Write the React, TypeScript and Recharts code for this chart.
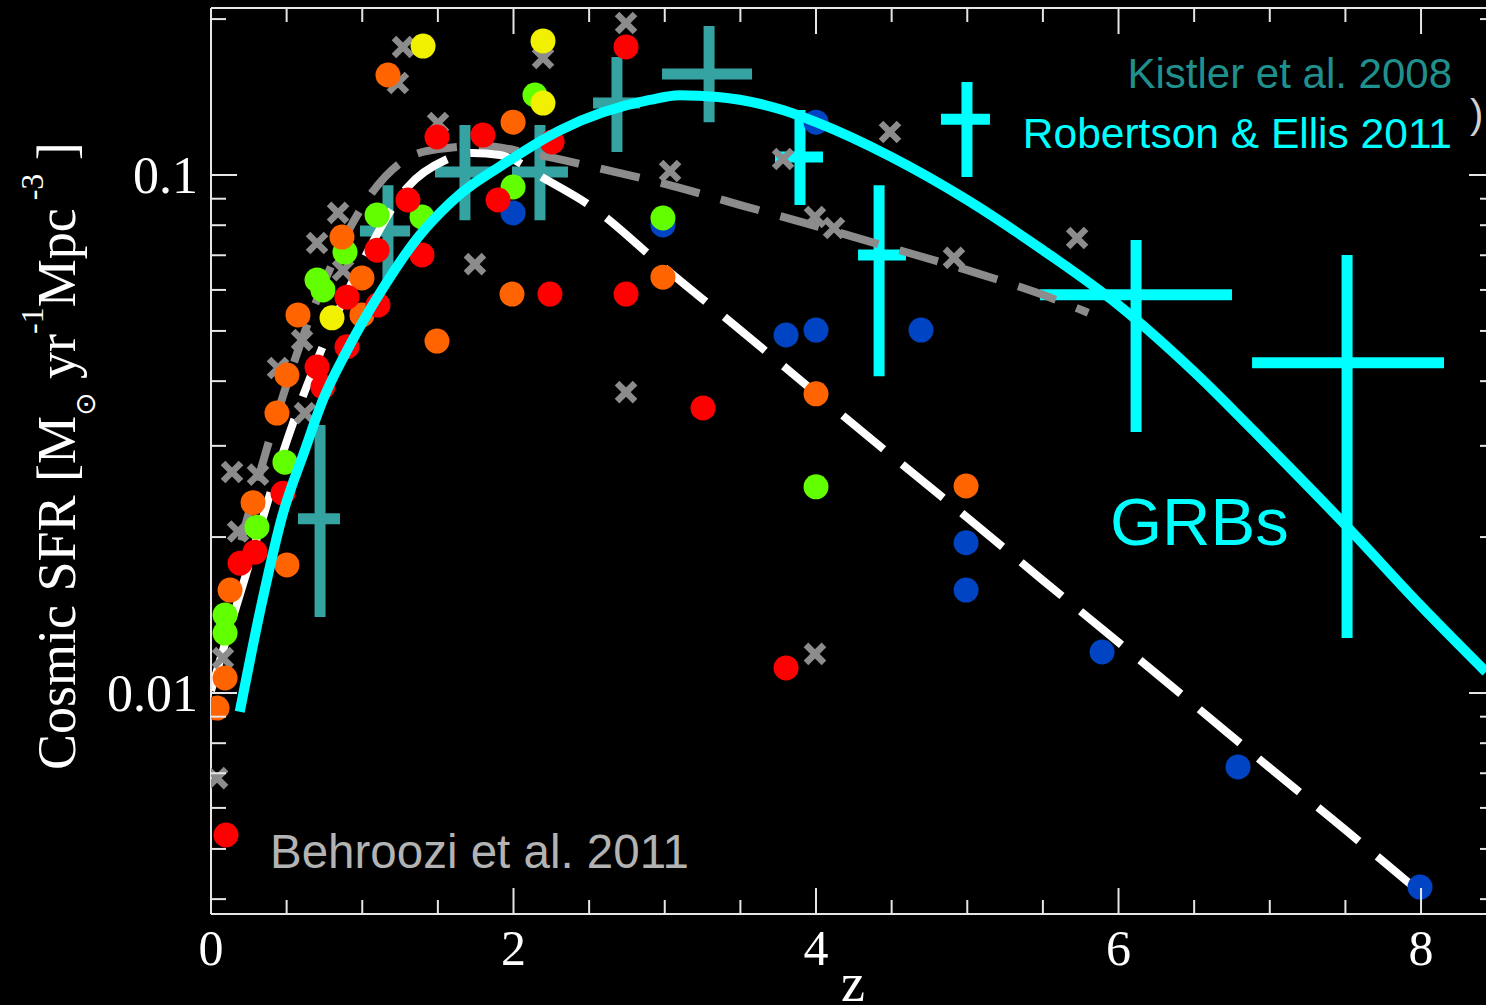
import { ComposedChart, XAxis, YAxis, Line, Scatter, ErrorBar } from 'recharts'

const W = 1496
const H = 1005
const AXIS = '#e6e6e6'
const SERIF = '"Liberation Serif", "Times New Roman", serif'
const SANS = '"Liberation Sans", Arial, sans-serif'

// axes
const zDomain: [number, number] = [0, 8.489]
const sfrDomain: [number, number] = [0.003744, 0.2101]
const zTicks = [0, 0.5, 1, 1.5, 2, 2.5, 3, 3.5, 4, 4.5, 5, 5.5, 6, 6.5, 7, 7.5, 8]
const zLabels = [0, 2, 4, 6, 8]
const sfrTicks = [0.004, 0.005, 0.006, 0.007, 0.008, 0.009, 0.01, 0.02, 0.03, 0.04, 0.05, 0.06, 0.07, 0.08, 0.09, 0.1, 0.2]
const sfrLabels = [0.01, 0.1]

// Behroozi et al. 2011 compilation, [z, SFR]
const yellowPts = [[1.402, 0.1774], [2.195, 0.1815], [2.195, 0.1377], [0.8, 0.053]]
const orangePts = [
  [1.17, 0.156], [1.997, 0.1265], [1.494, 0.0478], [1.99, 0.0589], [2.988, 0.0635], [4.0, 0.0378],
  [4.992, 0.0251], [0.502, 0.01767], [0.866, 0.0759], [0.998, 0.0633], [0.575, 0.0537], [0.998, 0.0537],
  [0.502, 0.0411], [0.436, 0.0347], [0.278, 0.0233], [0.126, 0.0158], [0.093, 0.01069], [0.04, 0.00935],
]
const redPts = [
  [2.744, 0.1767], [1.494, 0.1184], [1.798, 0.1194], [2.255, 0.1158], [1.302, 0.0895], [1.898, 0.0895],
  [1.395, 0.0701], [1.098, 0.0716], [0.899, 0.0581], [1.104, 0.0561], [0.899, 0.0466], [0.701, 0.0426],
  [0.74, 0.039], [0.476, 0.0243], [0.291, 0.0187], [0.192, 0.0178], [3.253, 0.0355], [2.744, 0.0589],
  [2.241, 0.0589], [3.802, 0.01118], [0.099, 0.00532],
]
const greenPts = [
  [2.142, 0.1427], [1.997, 0.0948], [1.098, 0.0837], [1.395, 0.083], [0.886, 0.071], [0.701, 0.0627],
  [0.74, 0.06], [2.988, 0.0826], [4.0, 0.025], [0.489, 0.0279], [0.304, 0.0209], [0.093, 0.01415], [0.093, 0.01305],
]
const bluePts = [
  [1.997, 0.0845], [2.988, 0.0801], [4.0, 0.1265], [3.802, 0.0491], [4.0, 0.0502], [4.694, 0.0502],
  [4.992, 0.0195], [4.992, 0.0158], [5.891, 0.012], [6.79, 0.0072], [7.993, 0.00422],
]
const grayPts = [
  [2.744, 0.1965], [2.195, 0.1682], [1.269, 0.1767], [1.236, 0.1505], [1.501, 0.126], [3.035, 0.1018],
  [1.745, 0.0673], [2.744, 0.0381], [3.993, 0.0119], [3.782, 0.1074], [3.993, 0.083], [4.119, 0.079],
  [4.489, 0.1211], [4.912, 0.0692], [5.726, 0.0756], [0.84, 0.0845], [0.701, 0.0739], [0.873, 0.0655],
  [0.602, 0.048], [0.443, 0.0424], [0.621, 0.0347], [0.139, 0.0267], [0.311, 0.0264], [0.179, 0.0205],
  [0.079, 0.01168], [0.04, 0.00685],
]

// fits
const behrooziFitZ = [0, 0.1, 0.22, 0.52, 0.73, 1.0, 1.3, 1.55, 1.73, 1.91, 2.22, 2.5, 3, 3.5, 4, 4.5, 5, 5.5, 6, 6.5, 7, 7.5, 8]
const behrooziFitSfr = [0.0101, 0.01266, 0.01652, 0.0318, 0.046, 0.0679, 0.0948, 0.1069, 0.1103, 0.1093, 0.0978, 0.0875, 0.0661, 0.0502, 0.0379, 0.0287, 0.0218, 0.0165, 0.01252, 0.00948, 0.00717, 0.00544, 0.00411]
const grayFitZ = [0.2, 0.4, 0.7, 1.03, 1.3, 1.5, 1.8, 2.1, 2.5, 3, 3.5, 4, 4.5, 5, 5.5, 5.8]
const grayFitSfr = [0.0197, 0.0318, 0.0574, 0.0895, 0.1078, 0.1122, 0.1138, 0.1103, 0.1041, 0.0961, 0.0875, 0.0797, 0.0723, 0.0655, 0.0587, 0.0542]
const reFitZ = [0.19, 0.34, 0.47, 0.62, 0.74, 0.89, 1.13, 1.37, 1.58, 1.98, 2.31, 2.9, 3.1, 3.35, 3.78, 4.0, 4.5, 5.0, 5.5, 6.0, 6.5, 7.0, 7.5, 8.0, 8.43]
const reFitSfr = [0.0092, 0.0151, 0.0219, 0.0294, 0.0368, 0.0453, 0.06, 0.0759, 0.0883, 0.107, 0.1221, 0.1396, 0.1425, 0.1415, 0.1335, 0.1265, 0.1083, 0.0895, 0.0716, 0.0561, 0.0417, 0.0298, 0.0211, 0.01472, 0.01098]

// Kistler et al. 2008 GRB points
const kistlerZ = [0.721, 1.17, 1.679, 2.175, 2.684, 3.293]
const kistlerSfr = [0.0217, 0.078, 0.1013, 0.1013, 0.1377, 0.1567]
const kistlerZLo = [0.575, 0.985, 1.481, 1.99, 2.526, 2.982]
const kistlerZHi = [0.853, 1.316, 1.858, 2.36, 2.836, 3.577]
const kistlerSfrLo = [0.01402, 0.0627, 0.0818, 0.0818, 0.1108, 0.1265]
const kistlerSfrHi = [0.0329, 0.0956, 0.1249, 0.1249, 0.169, 0.1939]

// Robertson & Ellis 2011 GRB points
const grbZ = [3.894, 4.417, 4.998, 6.116, 7.511]
const grbSfr = [0.1083, 0.0701, 0.1282, 0.0587, 0.0434]
const grbZLo = [3.729, 4.278, 4.826, 5.481, 6.883]
const grbZHi = [4.046, 4.595, 5.15, 6.75, 8.152]
const grbSfrLo = [0.0875, 0.0409, 0.0991, 0.0319, 0.01277]
const grbSfrHi = [0.1335, 0.0956, 0.1512, 0.0749, 0.0701]

const toPts = (pts: number[][]) => pts.map(([z, v]) => ({ z, v }))
const toCurve = (zs: number[], vs: number[]) => zs.map((z, i) => ({ z, v: vs[i] }))
const toBars = (zs: number[], vs: number[], zLo: number[], zHi: number[], vLo: number[], vHi: number[]) =>
  zs.map((z, i) => ({ z, v: vs[i], ex: [z - zLo[i], zHi[i] - z], ey: [vs[i] - vLo[i], vHi[i] - vs[i]] }))

const dot = (color: string) => (p: any) => <circle cx={p.cx} cy={p.cy} r={12.5} fill={color} />
const cross = (p: any) => (
  <path
    d={`M${p.cx - 9},${p.cy - 9}L${p.cx + 9},${p.cy + 9}M${p.cx + 9},${p.cy - 9}L${p.cx - 9},${p.cy + 9}`}
    stroke="#8c8c8c"
    strokeWidth={6.5}
  />
)
const none = () => <g />

function BottomTick({ x, y, payload }: any) {
  const major = zLabels.includes(payload.value)
  return (
    <g>
      <line x1={x} x2={x} y1={y} y2={y - (major ? 26 : 14)} stroke={AXIS} strokeWidth={2} />
      {major && (
        <text x={x} y={y + 51} textAnchor="middle" fill="#fff" fontSize={50} fontFamily={SERIF}>
          {payload.value}
        </text>
      )}
    </g>
  )
}

function TopTick({ x, y, payload }: any) {
  const major = zLabels.includes(payload.value)
  return <line x1={x} x2={x} y1={y} y2={y + (major ? 26 : 14)} stroke={AXIS} strokeWidth={2} />
}

function LeftTick({ x, y, payload }: any) {
  const major = sfrLabels.includes(payload.value)
  return (
    <g>
      <line x1={x} x2={x + (major ? 26 : 15)} y1={y} y2={y} stroke={AXIS} strokeWidth={2} />
      {major && (
        <text x={x - 13} y={y + 18} textAnchor="end" fill="#fff" fontSize={52} fontFamily={SERIF}>
          {String(payload.value)}
        </text>
      )}
    </g>
  )
}

function RightTick({ x, y, payload }: any) {
  const major = sfrLabels.includes(payload.value)
  return <line x1={x} x2={x - (major ? 26 : 15)} y1={y} y2={y} stroke={AXIS} strokeWidth={2} />
}

export default function App() {
  return (
    <div style={{ position: 'fixed', left: 0, top: 0, width: 1486, height: 1005, overflow: 'hidden', background: '#000' }}>
      <ComposedChart width={W} height={H} margin={{ top: 7, right: 0, bottom: 90, left: 210 }}>
        <XAxis
          type="number"
          dataKey="z"
          domain={zDomain}
          allowDataOverflow
          ticks={zTicks}
          interval={0}
          height={1}
          tickSize={0}
          tickMargin={0}
          tickLine={false}
          axisLine={{ stroke: AXIS, strokeWidth: 2 }}
          tick={(p: any) => <BottomTick {...p} />}
        />
        <XAxis
          xAxisId="top"
          orientation="top"
          type="number"
          dataKey="z"
          domain={zDomain}
          allowDataOverflow
          ticks={zTicks}
          interval={0}
          height={1}
          tickSize={0}
          tickMargin={0}
          tickLine={false}
          axisLine={{ stroke: AXIS, strokeWidth: 2 }}
          tick={(p: any) => <TopTick {...p} />}
        />
        <YAxis
          type="number"
          dataKey="v"
          scale="log"
          domain={sfrDomain}
          allowDataOverflow
          ticks={sfrTicks}
          interval={0}
          width={1}
          tickSize={0}
          tickMargin={0}
          tickLine={false}
          axisLine={{ stroke: AXIS, strokeWidth: 2 }}
          tick={(p: any) => <LeftTick {...p} />}
        />
        <YAxis
          yAxisId="right"
          orientation="right"
          type="number"
          dataKey="v"
          scale="log"
          domain={sfrDomain}
          allowDataOverflow
          ticks={sfrTicks}
          interval={0}
          width={1}
          tickSize={0}
          tickMargin={0}
          tickLine={false}
          axisLine={{ stroke: AXIS, strokeWidth: 2 }}
          tick={(p: any) => <RightTick {...p} />}
        />

        <Line
          data={toCurve(grayFitZ, grayFitSfr)}
          dataKey="v"
          type="monotone"
          stroke="#8c8c8c"
          strokeWidth={8}
          strokeDasharray="40 22"
          dot={false}
          activeDot={false}
          isAnimationActive={false}
          zIndex={450}
        />
        <Line
          data={toCurve(behrooziFitZ, behrooziFitSfr)}
          dataKey="v"
          type="monotone"
          stroke="#ffffff"
          strokeWidth={8}
          strokeDasharray="53 24"
          dot={false}
          activeDot={false}
          isAnimationActive={false}
          zIndex={460}
        />

        <Scatter data={toPts(grayPts)} shape={cross} isAnimationActive={false} zIndex={600} />
        <Scatter data={toPts(bluePts)} shape={dot('#0044c4')} isAnimationActive={false} zIndex={610} />
        <Scatter data={toPts(greenPts)} shape={dot('#62ff00')} isAnimationActive={false} zIndex={620} />
        <Scatter data={toPts(orangePts)} shape={dot('#ff6400')} isAnimationActive={false} zIndex={630} />
        <Scatter data={toPts(redPts)} shape={dot('#ff0000')} isAnimationActive={false} zIndex={640} />
        <Scatter data={toPts(yellowPts)} shape={dot('#f0f000')} isAnimationActive={false} zIndex={650} />

        <Scatter
          data={toBars(kistlerZ, kistlerSfr, kistlerZLo, kistlerZHi, kistlerSfrLo, kistlerSfrHi)}
          shape={none}
          isAnimationActive={false}
          zIndex={700}
        >
          <ErrorBar dataKey="ey" direction="y" width={0} stroke="#36a3a3" strokeWidth={11} />
          <ErrorBar dataKey="ex" direction="x" width={0} stroke="#36a3a3" strokeWidth={11} />
        </Scatter>

        <Line
          data={toCurve(reFitZ, reFitSfr)}
          dataKey="v"
          type="monotone"
          stroke="#00ffff"
          strokeWidth={10}
          dot={false}
          activeDot={false}
          isAnimationActive={false}
          zIndex={750}
        />

        <Scatter
          data={toBars(grbZ, grbSfr, grbZLo, grbZHi, grbSfrLo, grbSfrHi)}
          shape={none}
          isAnimationActive={false}
          zIndex={760}
        >
          <ErrorBar dataKey="ey" direction="y" width={0} stroke="#00ffff" strokeWidth={11} />
          <ErrorBar dataKey="ex" direction="x" width={0} stroke="#00ffff" strokeWidth={11} />
        </Scatter>
      </ComposedChart>

      <svg width={1486} height={1005} style={{ position: 'absolute', left: 0, top: 0, pointerEvents: 'none' }}>
        <text x={1452} y={88} textAnchor="end" fill="#20908e" fontSize={42} fontFamily={SANS}>
          Kistler et al. 2008
        </text>
        <text x={1452} y={148} textAnchor="end" fill="#00ffff" fontSize={42.5} fontFamily={SANS}>
          Robertson &amp; Ellis 2011
        </text>
        <text x={1470} y={128} fill="#d0d0d0" fontSize={40} fontFamily={SANS}>)</text>
        <text x={270} y={868} fill="#b3b3b3" fontSize={47.5} fontFamily={SANS}>
          Behroozi et al. 2011
        </text>
        <text x={1110} y={545} fill="#00ffff" fontSize={67} fontFamily={SANS}>
          GRBs
        </text>
        <text x={853} y={1001} textAnchor="middle" fill="#fff" fontSize={54} fontFamily={SERIF}>
          z
        </text>
        <text transform="translate(75,770) rotate(-90)" fill="#fff" fontSize={54} fontFamily={SERIF}>
          Cosmic SFR [M
          <tspan dy={20} fontSize={28} fontFamily='"DejaVu Sans", sans-serif'>⊙</tspan>
          <tspan dy={-20}> yr</tspan>
          <tspan dy={-32} fontSize={32}>-1</tspan>
          <tspan dy={32}>Mpc</tspan>
          <tspan dy={-32} fontSize={32}> -3</tspan>
          <tspan dy={32}> ]</tspan>
        </text>
      </svg>
    </div>
  )
}
